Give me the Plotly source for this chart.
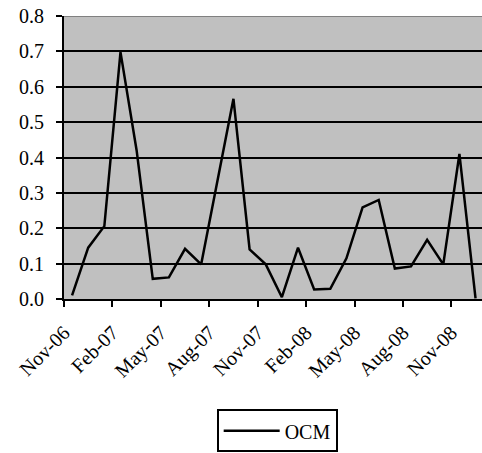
import plotly.graph_objects as go

months = ["Nov-06", "Dec-06", "Jan-07", "Feb-07", "Mar-07", "Apr-07", "May-07", "Jun-07",
          "Jul-07", "Aug-07", "Sep-07", "Oct-07", "Nov-07", "Dec-07", "Jan-08", "Feb-08",
          "Mar-08", "Apr-08", "May-08", "Jun-08", "Jul-08", "Aug-08", "Sep-08", "Oct-08",
          "Nov-08", "Dec-08"]
ocm = [0.01, 0.145, 0.206, 0.698, 0.42, 0.057, 0.061, 0.142, 0.098, 0.33, 0.566, 0.140,
       0.098, 0.005, 0.145, 0.027, 0.029, 0.115, 0.259, 0.280, 0.086, 0.092, 0.167, 0.098,
       0.410, 0.002]
y_ticks = [0.0, 0.1, 0.2, 0.3, 0.4, 0.5, 0.6, 0.7, 0.8]

x_pos = [i + 0.5 for i in range(len(months))]
tick_idx = list(range(0, len(months), 3))

font = dict(family="Liberation Serif", size=20, color="black")

fig = go.Figure()
fig.add_trace(go.Scatter(x=x_pos, y=ocm, mode="lines", name="OCM",
                         line=dict(color="black", width=2.5)))

fig.update_layout(
    width=482, height=453,
    margin=dict(l=64, r=0, t=16, b=154),
    paper_bgcolor="white", plot_bgcolor="#C0C0C0",
    font=font,
    showlegend=True,
    legend=dict(orientation="h", x=0.51, xanchor="center", y=-0.39, yanchor="top",
                bordercolor="black", borderwidth=2, bgcolor="white",
                itemwidth=56, font=font),
    xaxis=dict(range=[0, 25.9], tickvals=tick_idx, ticktext=[months[i] for i in tick_idx],
               tickangle=-45, ticks="outside", ticklen=6, tickwidth=2, tickcolor="black",
               showline=True, linecolor="black", linewidth=2, showgrid=False,
               zeroline=False, ticklabelstandoff=6, tickfont=font),
    yaxis=dict(range=[0, 0.8], tickvals=y_ticks, ticktext=[f"{v:.1f}" for v in y_ticks],
               ticks="outside", ticklen=6, tickwidth=2, tickcolor="black",
               showline=True, linecolor="black", linewidth=2,
               showgrid=True, gridcolor="black", gridwidth=2, zeroline=False,
               ticklabelstandoff=8, tickfont=font),
)
fig.add_shape(type="line", xref="paper", yref="y", x0=0, x1=1, y0=0.8, y1=0.8,
              line=dict(color="#808080", width=2), layer="above")

fig.write_html("out.html")
